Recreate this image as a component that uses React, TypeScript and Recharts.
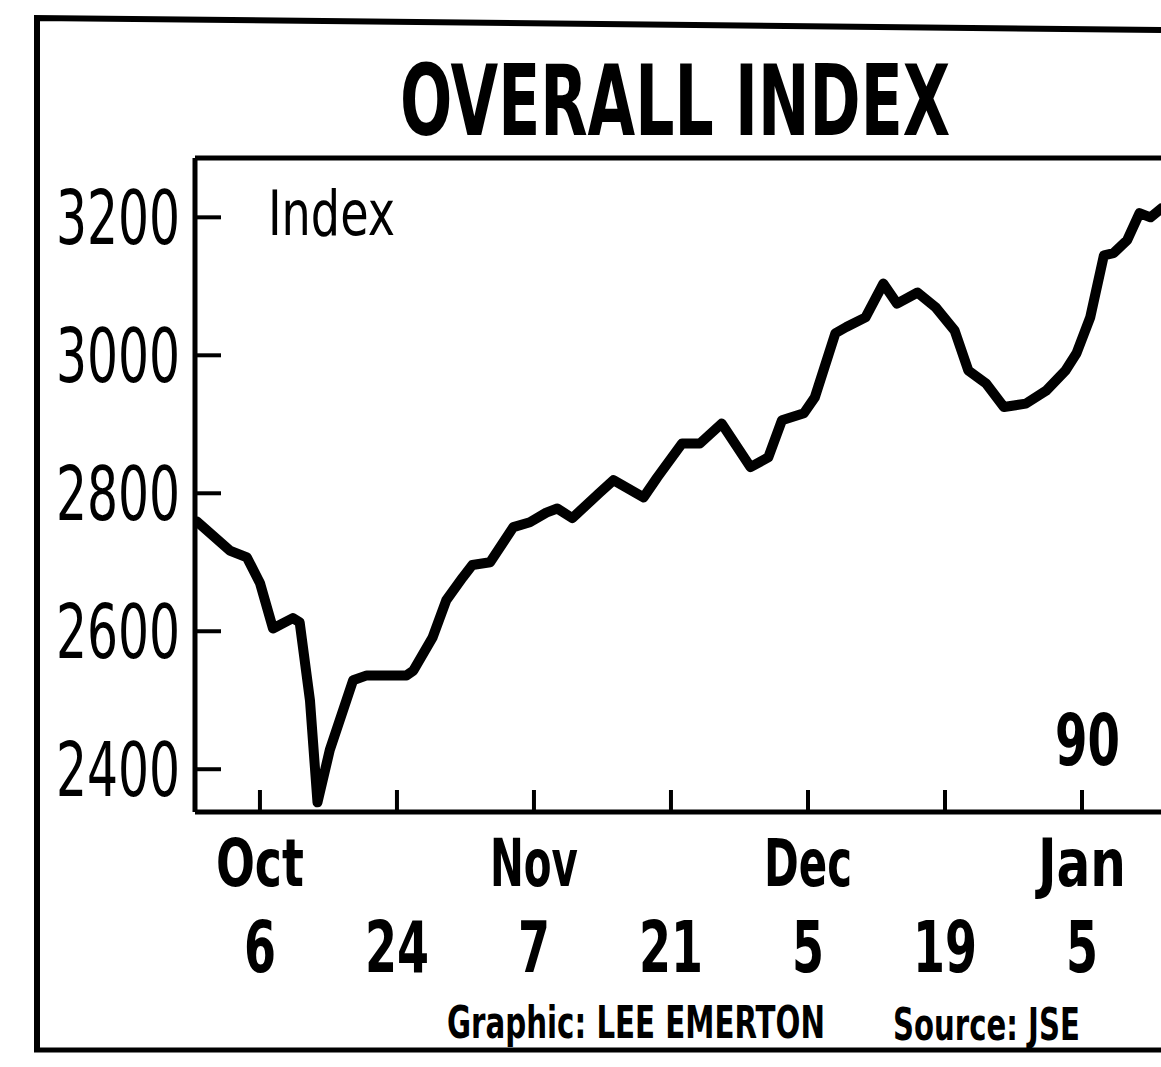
import React from "react";
import { LineChart, Line, XAxis, YAxis, ReferenceLine } from "recharts";

// Tick positions (one unit = one labelled fortnight on the axis)
const tickPositions = [0, 1, 2, 3, 4, 5, 6];
const monthLabels = ["Oct", "", "Nov", "", "Dec", "", "Jan"];
const dayLabels = ["6", "24", "7", "21", "5", "19", "5"];
const yTicks = [2400, 2600, 2800, 3000, 3200];

// Series: position along the time axis and the overall index value
const timePoints = [
  -0.46, -0.22, -0.095, 0, 0.095, 0.24, 0.29, 0.365, 0.42, 0.51, 0.68, 0.78,
  1.07, 1.12, 1.26, 1.36, 1.48, 1.55, 1.68, 1.85, 1.97, 2.09, 2.17, 2.28,
  2.48, 2.58, 2.8, 2.9, 3.08, 3.21, 3.37, 3.58, 3.71, 3.81, 3.97, 4.05, 4.2,
  4.28, 4.42, 4.55, 4.65, 4.8, 4.93, 5.07, 5.17, 5.3, 5.43, 5.59, 5.74, 5.88,
  5.96, 6.06, 6.16, 6.23, 6.33, 6.42, 6.5, 6.58,
];
const indexValues = [
  2759, 2717, 2707, 2670, 2604, 2619, 2613, 2500, 2352, 2428, 2529, 2536,
  2536, 2543, 2591, 2645, 2678, 2696, 2700, 2751, 2758, 2772, 2778, 2764,
  2801, 2819, 2794, 2823, 2872, 2872, 2901, 2838, 2852, 2906, 2916, 2939, 3032,
  3041, 3055, 3104, 3075, 3091, 3070, 3036, 2978, 2959, 2925, 2930, 2949, 2978,
  3003, 3055, 3145, 3148, 3167, 3206, 3200, 3213,
];

const data = timePoints.map((t, i) => ({ t, v: indexValues[i] }));

const NARROW = "'Liberation Sans Narrow', 'DejaVu Sans Condensed', 'Arial Narrow', sans-serif";
const HEAVY = "'DejaVu Sans Condensed', 'Liberation Sans Narrow', sans-serif";

const YTick = (props: any) => {
  const { x, y, payload } = props;
  return (
    <g>
      <line x1={x} y1={y} x2={x + 26} y2={y} stroke="#000" strokeWidth={4} />
      <text
        x={x - 15}
        y={y}
        dy="0.36em"
        textAnchor="end"
        fontFamily={NARROW}
        fontSize={74}
        textLength={124}
        lengthAdjust="spacingAndGlyphs"
        fill="#000"
      >
        {payload.value}
      </text>
    </g>
  );
};

const XTick = (props: any) => {
  const { x, y, payload } = props;
  const i = tickPositions.indexOf(payload.value);
  const month = monthLabels[i] || "";
  const day = dayLabels[i] || "";
  return (
    <g>
      <line x1={x} y1={y} x2={x} y2={y - 22} stroke="#000" strokeWidth={4} />
      {month && (
        <text
          x={x}
          y={y + 74}
          textAnchor="middle"
          fontFamily={HEAVY}
          fontWeight="bold"
          fontSize={66}
          textLength={88}
          lengthAdjust="spacingAndGlyphs"
          fill="#000"
        >
          {month}
        </text>
      )}
      <text
        x={x}
        y={y + 160}
        textAnchor="middle"
        fontFamily={HEAVY}
        fontWeight="bold"
        fontSize={72}
        textLength={day.length * 32}
        lengthAdjust="spacingAndGlyphs"
        fill="#000"
      >
        {day}
      </text>
    </g>
  );
};

export default function App() {
  return (
    <div
      style={{
        position: "fixed",
        left: 0,
        top: 0,
        width: 1161,
        height: 1067,
        overflow: "hidden",
        background: "#fff",
      }}
    >
      <LineChart
        width={1240}
        height={1067}
        data={data}
        margin={{ top: 158, right: 21, bottom: 0, left: 0 }}
      >
        <XAxis
          dataKey="t"
          type="number"
          domain={[-0.474, 7]}
          ticks={tickPositions}
          interval={0}
          height={255}
          tickSize={0}
          tickMargin={0}
          tickLine={false}
          axisLine={{ stroke: "#000", strokeWidth: 5 }}
          tick={<XTick />}
          allowDataOverflow
        />
        <YAxis
          type="number"
          domain={[2338, 3286]}
          ticks={yTicks}
          width={195}
          tickSize={0}
          tickMargin={0}
          tickLine={false}
          axisLine={{ stroke: "#000", strokeWidth: 5 }}
          tick={<YTick />}
          allowDataOverflow
        />
        <ReferenceLine y={3286} stroke="#000" strokeWidth={5} />
        <Line
          type="linear"
          dataKey="v"
          stroke="#000"
          strokeWidth={10}
          strokeLinejoin="round"
          strokeLinecap="round"
          dot={false}
          isAnimationActive={false}
        />
      </LineChart>
      <svg
        width={1161}
        height={1067}
        style={{ position: "absolute", left: 0, top: 0, pointerEvents: "none" }}
      >
        <polyline points="37,1050 37,18 1161,30" fill="none" stroke="#000" strokeWidth={6} />
        <line x1={34} y1={1050} x2={1161} y2={1050} stroke="#000" strokeWidth={5} />
        <text
          transform="translate(400,135) scale(0.7,1)"
          fontFamily={HEAVY}
          fontWeight="bold"
          fontSize={98}
          textLength={786}
          lengthAdjust="spacingAndGlyphs"
          fill="#000"
        >
          OVERALL INDEX
        </text>
        <text
          x={268}
          y={235}
          fontFamily={NARROW}
          fontSize={62}
          textLength={127}
          lengthAdjust="spacingAndGlyphs"
          fill="#000"
        >
          Index
        </text>
        <text
          x={1055}
          y={765}
          fontFamily={HEAVY}
          fontWeight="bold"
          fontSize={72}
          textLength={65}
          lengthAdjust="spacingAndGlyphs"
          fill="#000"
        >
          90
        </text>
        <text
          transform="translate(447,1038) scale(0.7,1)"
          fontFamily={NARROW}
          fontWeight="bold"
          fontSize={44}
          textLength={540}
          lengthAdjust="spacingAndGlyphs"
          fill="#000"
        >
          Graphic: LEE EMERTON
        </text>
        <text
          transform="translate(893,1040) scale(0.7,1)"
          fontFamily={NARROW}
          fontWeight="bold"
          fontSize={44}
          textLength={267}
          lengthAdjust="spacingAndGlyphs"
          fill="#000"
        >
          Source: JSE
        </text>
      </svg>
    </div>
  );
}
